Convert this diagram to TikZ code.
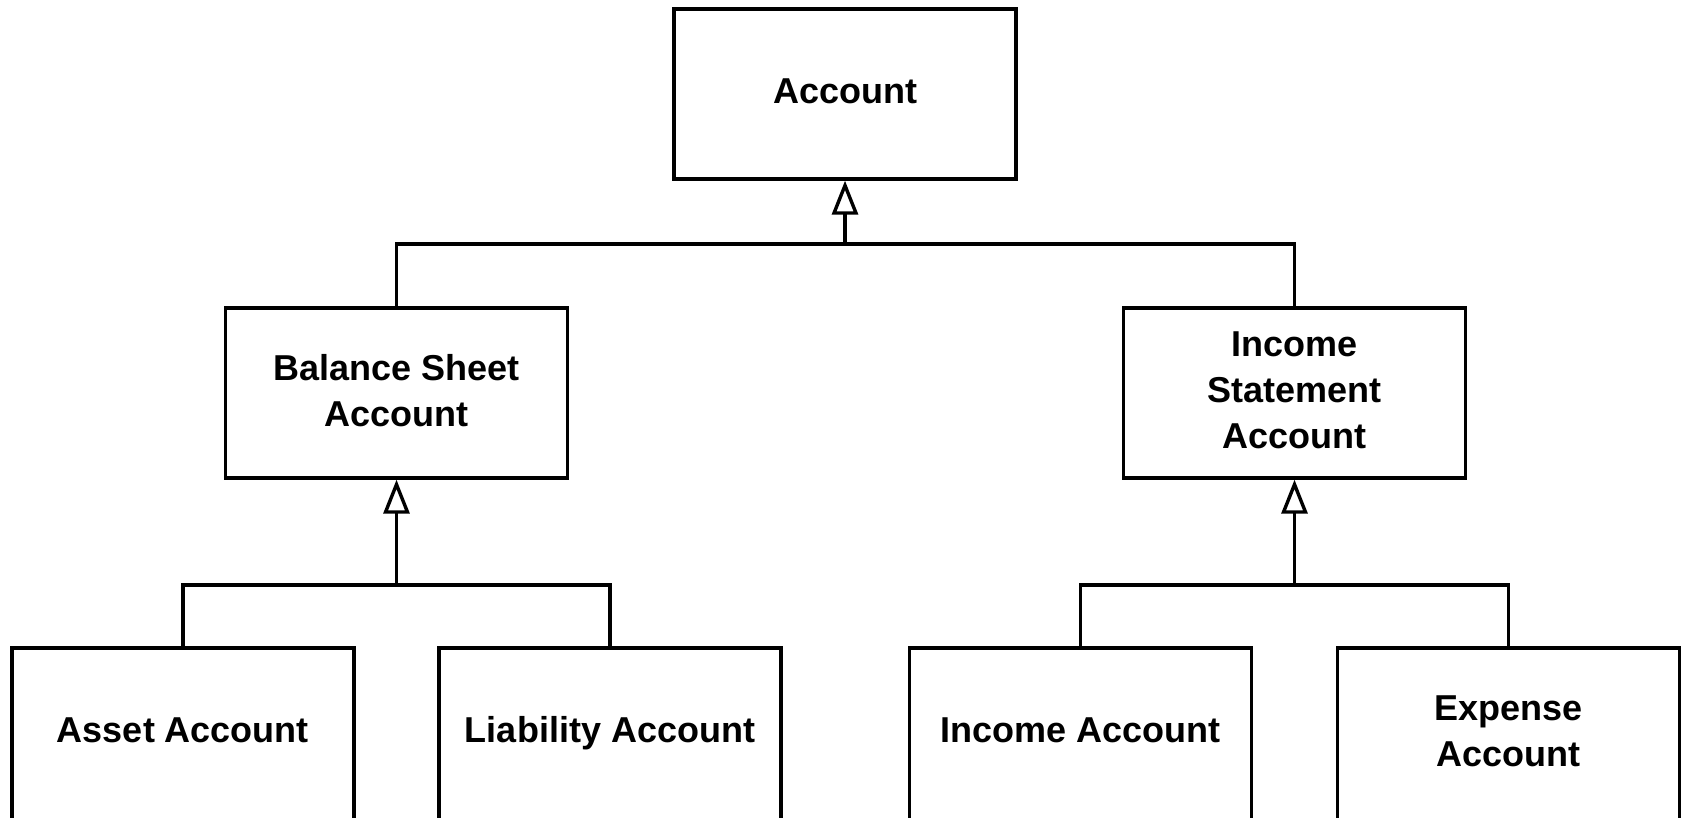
\documentclass[tikz,border=0pt]{standalone}
\usepackage{fontspec}
\setmainfont{Liberation Sans}
\usetikzlibrary{arrows.meta}
\begin{document}
\begin{tikzpicture}[x=1pt,y=-1pt,
  box/.style={draw=black, line width=3.4pt, fill=white, minimum width=342pt, minimum height=170pt,
    inner sep=0pt},
  lbl/.style={align=center, inner sep=0pt, font=\bfseries\fontsize{36}{46}\selectfont},
  conn/.style={draw=black, line width=3.4pt},
  gen/.style={conn, -{Triangle[open, length=34pt, width=26pt]}}]
\useasboundingbox (0,0) rectangle (1683,818);
\clip (0,0) rectangle (1683,818);
\fill[white] (0,0) rectangle (1683,818);
\node[box] (acc) at (845,94) {};
\node[box] (bal) at (396.5,393) {};
\node[box] (inc) at (1294.5,393) {};
\node[box, minimum height=174pt] (asset) at (183,735) {};
\node[box, minimum height=174pt] (liab) at (610,735) {};
\node[box, minimum height=174pt] (incacc) at (1080.5,735) {};
\node[box, minimum height=174pt] (exp) at (1508.5,735) {};
\node[lbl] (acct) at (845,91) {Account};
\node[lbl] (balt) at (396.5,391) {Balance Sheet\\Account};
\node[lbl] (inct) at (1294.5,390) {Income\\Statement\\Account};
\node[lbl, anchor=base] (assett) at (183,742) {Asset Account};
\node[lbl, anchor=base] (liabt) at (610,742) {Liability Account};
\node[lbl, anchor=base] (incacct) at (1080.5,742) {Income Account};
\node[lbl] (expt) at (1508.5,731) {Expense\\Account};
\coordinate (b0) at (845,244);
\coordinate (b1) at (396.5,585);
\coordinate (b2) at (1294.5,585);
\draw[gen] (bal.north) |- (b0) -- (acc.south);
\draw[conn] (inc.north) |- (b0);
\draw[gen] (asset.north) |- (b1) -- (bal.south);
\draw[conn] (liab.north) |- (b1);
\draw[gen] (incacc.north) |- (b2) -- (inc.south);
\draw[conn] (exp.north) |- (b2);
\end{tikzpicture}
\end{document}
